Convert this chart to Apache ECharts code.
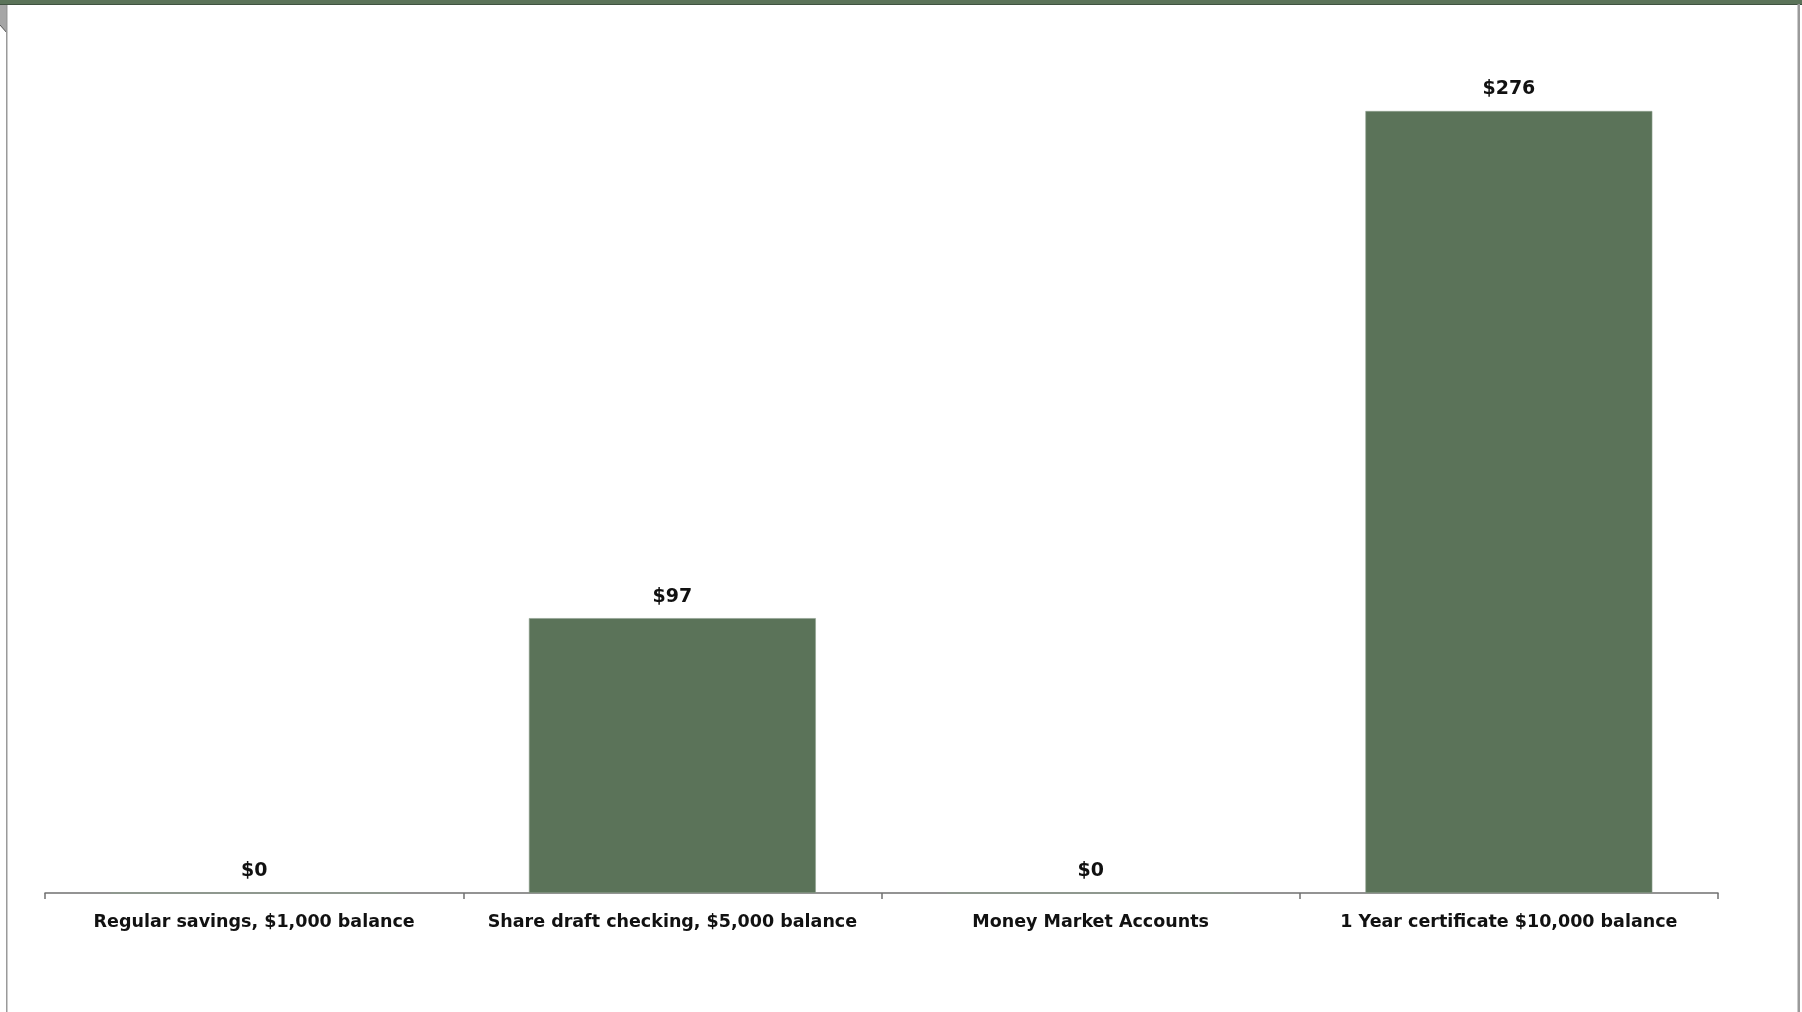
<!DOCTYPE html>
<html>
<head>
<meta charset="utf-8">
<title>Dividends earned by account type</title>
<script src="https://cdn.jsdelivr.net/npm/echarts@6/dist/echarts.min.js"></script>
<style>
  html, body { margin: 0; padding: 0; background: #ffffff; }
  #chart { width: 1802px; height: 1012px; }
</style>
</head>
<body>
<div id="chart"></div>
<script>
// Account types along the x axis
const categories = [
  'Regular savings, $1,000 balance',
  'Share draft checking, $5,000 balance',
  'Money Market Accounts',
  '1 Year certificate $10,000 balance'
];
// Annual dividend earned, in dollars
const dividends = [0, 97, 0, 276];
// Value axis range
const axisMin = 0;
const axisMax = 300;

const barColor = '#5b7359';
const fontFamily = '"DejaVu Sans", "Liberation Sans", sans-serif';

const chart = echarts.init(document.getElementById('chart'), null, { renderer: 'canvas' });

chart.setOption({
  backgroundColor: '#ffffff',
  animation: false,
  grid: { left: 45, right: 84, top: 43, bottom: 119, containLabel: false },
  xAxis: {
    type: 'category',
    data: categories,
    axisLine: { show: true, lineStyle: { color: '#707070', width: 1.5 } },
    axisTick: { show: true, alignWithLabel: false, length: 6, inside: false, lineStyle: { color: '#707070', width: 1.5 } },
    axisLabel: {
      margin: 20,
      color: '#111111',
      fontFamily: fontFamily,
      fontWeight: 'bold',
      fontSize: 17.5,
      interval: 0
    },
    splitLine: { show: false }
  },
  yAxis: {
    type: 'value',
    min: axisMin,
    max: axisMax,
    show: false,
    splitLine: { show: false }
  },
  series: [{
    type: 'bar',
    data: dividends,
    barWidth: '68.6%',
    itemStyle: { color: barColor, borderColor: '#8fa08e', borderWidth: 0.6 },
    label: {
      show: true,
      position: 'top',
      distance: 12,
      formatter: p => '$' + p.value,
      color: '#111111',
      fontFamily: fontFamily,
      fontWeight: 'bold',
      fontSize: 19
    }
  }],
  graphic: [
    // green band along the top edge
    { type: 'rect', shape: { x: 0, y: 0, width: 1802, height: 5 }, style: { fill: '#5b7359' }, silent: true },
    { type: 'rect', shape: { x: 0, y: 4, width: 1802, height: 1 }, style: { fill: '#3f5240' }, silent: true },
    // left frame: grey corner and border line
    { type: 'polygon', shape: { points: [[0, 5], [7, 5], [7, 33], [0, 25]] }, style: { fill: '#a6a6a6' }, silent: true },
    { type: 'line', shape: { x1: 0, y1: 25, x2: 7, y2: 33 }, style: { stroke: '#555555', lineWidth: 1 }, silent: true },
    { type: 'rect', shape: { x: 6, y: 5, width: 1.5, height: 1007 }, style: { fill: '#9a9a9a' }, silent: true },
    // right frame border
    { type: 'rect', shape: { x: 1797.5, y: 4, width: 2.5, height: 1008 }, style: { fill: '#9a9a9a' }, silent: true }
  ]
});
</script>
</body>
</html>
